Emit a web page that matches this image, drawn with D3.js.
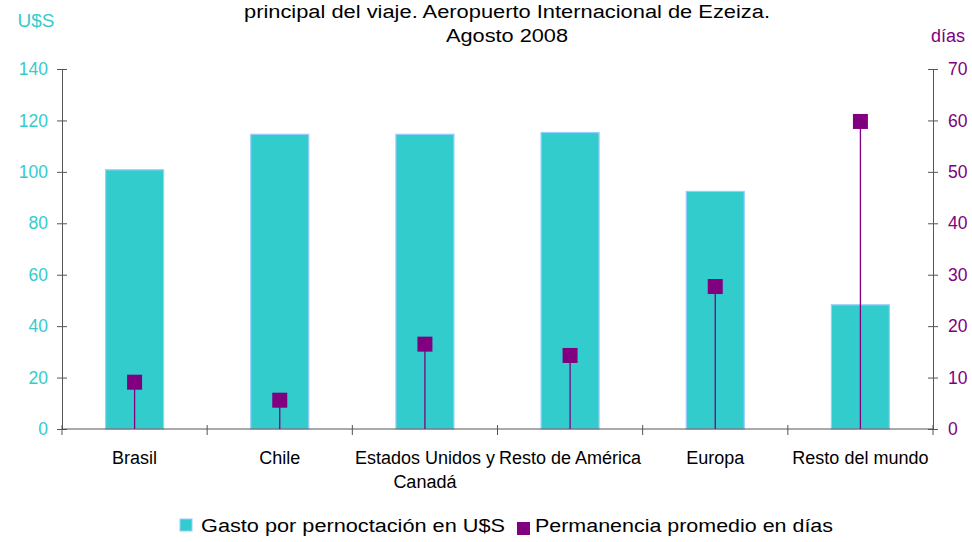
<!DOCTYPE html>
<html>
<head>
<meta charset="utf-8">
<script src="https://cdn.jsdelivr.net/npm/d3@7"></script>
<style>
  body { margin: 0; background: #fff; }
  svg { font-family: "Liberation Sans", Arial, sans-serif; }
  .axis path, .axis line { stroke: #555; }
</style>
</head>
<body>
<svg id="chart" width="972" height="542"></svg>
<script>
// Values
const categories = ['Brasil', 'Chile', 'Estados Unidos y Canadá', 'Resto de América', 'Europa', 'Resto del mundo'];
const gasto = [100.8, 114.6, 114.6, 115.3, 92.4, 48.3];
const permanencia = [9.1, 5.6, 16.5, 14.3, 27.7, 59.8];
const leftTicks = [0, 20, 40, 60, 80, 100, 120, 140];
const rightTicks = [0, 10, 20, 30, 40, 50, 60, 70];
const titleLines = ['principal del viaje. Aeropuerto Internacional de Ezeiza.', 'Agosto 2008'];
const legendItems = ['Gasto por pernoctación en U$S', 'Permanencia promedio en días'];

const teal = '#33cccc';
const purple = '#800080';

const svg = d3.select('#chart');
const plot = { left: 62, right: 933, top: 69, bottom: 429 };

const x = d3.scaleBand()
  .domain(categories)
  .range([plot.left, plot.right]);
const yLeft = d3.scaleLinear().domain([0, 140]).range([plot.bottom, plot.top]);
const yRight = d3.scaleLinear().domain([0, 70]).range([plot.bottom, plot.top]);

// Title (the source renders it horizontally stretched)
const titleWidths = [526, 122];
svg.append('g')
  .selectAll('text')
  .data(titleLines)
  .join('text')
  .attr('x', (d, i) => 507 - titleWidths[i] / 2)
  .attr('y', (d, i) => 18 + i * 24)
  .attr('font-size', 18)
  .attr('textLength', (d, i) => titleWidths[i])
  .attr('lengthAdjust', 'spacingAndGlyphs')
  .attr('fill', '#000')
  .text(d => d);

svg.append('text')
  .attr('x', 36).attr('y', 27)
  .attr('text-anchor', 'middle')
  .attr('font-size', 19)
  .attr('fill', teal)
  .text('U$S');

svg.append('text')
  .attr('x', 948).attr('y', 42)
  .attr('text-anchor', 'middle')
  .attr('font-size', 18)
  .attr('fill', purple)
  .text('días');

// Bars
const barW = 58;
svg.append('g')
  .selectAll('rect')
  .data(gasto)
  .join('rect')
  .attr('x', (d, i) => x(categories[i]) + x.bandwidth() / 2 - barW / 2)
  .attr('y', d => yLeft(d))
  .attr('width', barW)
  .attr('height', d => yLeft(0) - yLeft(d))
  .attr('fill', teal)
  .attr('stroke', '#99ccff')
  .attr('stroke-width', 1.2);

// Axes
const leftAxis = svg.append('g')
  .attr('class', 'axis')
  .attr('transform', `translate(${plot.left},0)`)
  .call(d3.axisLeft(yLeft).tickValues(leftTicks).tickSize(5).tickSizeOuter(0).tickPadding(9));
leftAxis.selectAll('.tick line').attr('x1', 5);
leftAxis.selectAll('text').attr('fill', teal).attr('font-size', 17.5).attr('font-family', 'Liberation Sans, Arial, sans-serif');

const rightAxis = svg.append('g')
  .attr('class', 'axis')
  .attr('transform', `translate(${plot.right},0)`)
  .call(d3.axisRight(yRight).tickValues(rightTicks).tickSize(5).tickSizeOuter(0).tickPadding(10));
rightAxis.selectAll('.tick line').attr('x1', -5);
rightAxis.selectAll('text').attr('fill', purple).attr('font-size', 17.5).attr('font-family', 'Liberation Sans, Arial, sans-serif');

// Category axis with ticks on band boundaries
const boundaries = categories.map(c => x(c)).concat([plot.right]);
const bottom = svg.append('g').attr('class', 'axis');
bottom.append('line')
  .attr('x1', plot.left).attr('x2', plot.right)
  .attr('y1', plot.bottom).attr('y2', plot.bottom)
  .attr('stroke', '#555');
bottom.selectAll('.btick')
  .data(boundaries)
  .join('line')
  .attr('class', 'btick')
  .attr('x1', d => d).attr('x2', d => d)
  .attr('y1', plot.bottom - 4).attr('y2', plot.bottom + 6)
  .attr('stroke', '#555');

const labelLines = {
  'Estados Unidos y Canadá': ['Estados Unidos y', 'Canadá']
};
bottom.selectAll('.clabel')
  .data(categories)
  .join('text')
  .attr('class', 'clabel')
  .attr('text-anchor', 'middle')
  .attr('font-size', 18)
  .attr('fill', '#000')
  .each(function (d) {
    const lines = labelLines[d] || [d];
    d3.select(this).selectAll('tspan')
      .data(lines)
      .join('tspan')
      .attr('x', x(d) + x.bandwidth() / 2)
      .attr('y', (l, i) => 464 + i * 24)
      .text(l => l);
  });

// Stems and markers
const mk = 15;
const marks = svg.append('g');
marks.selectAll('line')
  .data(permanencia)
  .join('line')
  .attr('x1', (d, i) => x(categories[i]) + x.bandwidth() / 2)
  .attr('x2', (d, i) => x(categories[i]) + x.bandwidth() / 2)
  .attr('y1', yRight(0))
  .attr('y2', d => yRight(d))
  .attr('stroke', purple)
  .attr('stroke-width', 1.3);
marks.selectAll('rect')
  .data(permanencia)
  .join('rect')
  .attr('x', (d, i) => x(categories[i]) + x.bandwidth() / 2 - mk / 2)
  .attr('y', d => yRight(d) - mk / 2)
  .attr('width', mk)
  .attr('height', mk)
  .attr('fill', purple);

// Legend (text is stretched like the source)
const legend = svg.append('g').attr('font-size', 18).attr('fill', '#000');
legend.append('rect')
  .attr('x', 180).attr('y', 519).attr('width', 12).attr('height', 12)
  .attr('fill', teal).attr('stroke', '#99ccff');
legend.append('text').attr('x', 201).attr('y', 532)
  .attr('textLength', 304).attr('lengthAdjust', 'spacingAndGlyphs')
  .text(legendItems[0]);
legend.append('rect')
  .attr('x', 517).attr('y', 522).attr('width', 13).attr('height', 13)
  .attr('fill', purple);
legend.append('text').attr('x', 535).attr('y', 532)
  .attr('textLength', 298).attr('lengthAdjust', 'spacingAndGlyphs')
  .text(legendItems[1]);
</script>
</body>
</html>
